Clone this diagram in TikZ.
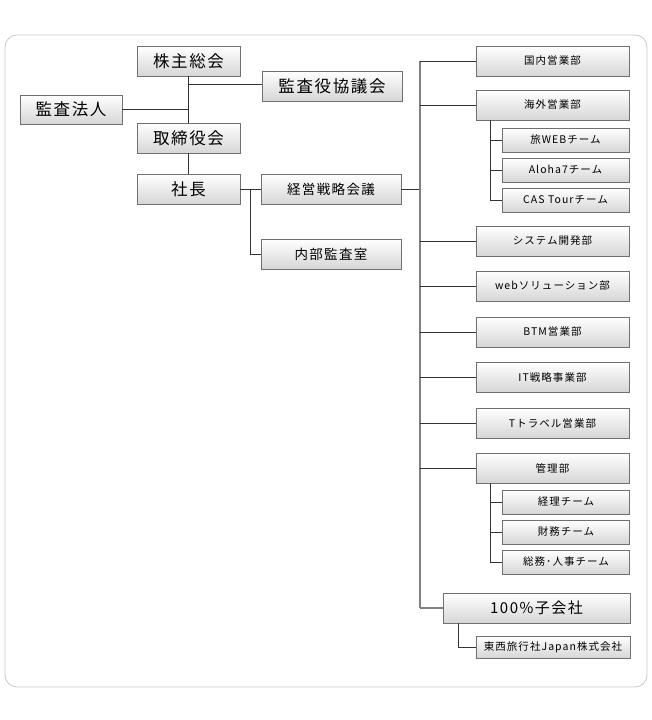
\documentclass[tikz,border=0pt]{standalone}
\usepackage{fontspec}
\setmainfont{Noto Sans CJK JP}[LetterSpace=10]
\usepackage{tikz}
\usetikzlibrary{calc}
\definecolor{frame}{HTML}{C8C8C8}
\definecolor{edge}{HTML}{707070}
\definecolor{link}{HTML}{333333}
\definecolor{trunk}{HTML}{808080}

\begin{document}
\begin{tikzpicture}[x=1pt, y=-1pt,
  orgbox/.style={draw=edge, top color=white, bottom color=black!16,
    inner sep=0pt, minimum height=30pt, align=center},
  bigbox/.style={orgbox, minimum width=103pt, font=\fontsize{16.5}{17}\selectfont},
  midbox/.style={orgbox, minimum width=140pt, font=\fontsize{13.5}{14}\selectfont},
  deptbox/.style={orgbox, minimum width=153pt, font=\fontsize{10.5}{11}\selectfont},
  teambox/.style={orgbox, minimum width=127pt, minimum height=24pt,
    font=\fontsize{10.5}{11}\selectfont},
  link/.style={draw=link, line width=0.8pt},
  trunk/.style={draw=trunk, line width=1.4pt}
]
\useasboundingbox (0,0) rectangle (652,720);
\draw[frame, line width=0.8pt, rounded corners=12pt] (5,35) rectangle (647,687);

% left part
\node[bigbox] (kabunushi) at (188.5,61) {株主総会};
\node[midbox, font=\fontsize{16.5}{17}\selectfont] (kansayaku) at (332,86) {監査役協議会};
\node[bigbox, minimum width=102pt, minimum height=29pt] (kansahojin) at (71,109.5) {監査法人};
\node[bigbox] (torishimari) at (188.5,138) {取締役会};
\node[bigbox] (shacho) at (188.5,189) {社長};
\node[midbox] (keiei) at (331,189) {経営戦略会議};
\node[midbox] (naibu) at (331,254) {内部監査室};

% right part
\node[deptbox] (kokunai) at (552.5,61) {国内営業部};
\node[deptbox] (kaigai) at (552.5,105) {海外営業部};
\node[teambox] (tabi) at (565.5,140) {旅WEBチーム};
\node[teambox] (aloha) at (565.5,170) {Aloha7チーム};
\node[teambox] (cas) at (565.5,200) {CAS Tourチーム};
\node[deptbox] (system) at (552.5,241) {システム開発部};
\node[deptbox] (web) at (552.5,286) {webソリューション部};
\node[deptbox] (btm) at (552.5,332) {BTM営業部};
\node[deptbox] (it) at (552.5,377) {IT戦略事業部};
\node[deptbox] (travel) at (552.5,423) {Tトラベル営業部};
\node[deptbox] (kanri) at (552.5,468) {管理部};
\node[teambox] (keiri) at (566,502) {経理チーム};
\node[teambox] (zaimu) at (566,532) {財務チーム};
\node[teambox] (somu) at (566,562) {総務･人事チーム};
\node[orgbox, minimum width=187pt, font=\fontsize{15}{15}\selectfont] (kogaisha) at (536.5,608) {100\%子会社};
\node[teambox, minimum width=154pt, minimum height=22pt] (tozai) at (553,647) {東西旅行社Japan株式会社};

\coordinate (bus) at (420,189);

% connectors
\draw[link] (kabunushi.south) -- (torishimari.north);
\draw[link] (torishimari.south) -- (shacho.north);
\draw[link] ([yshift=2pt]kansayaku.west) -- ([yshift=2pt]kansayaku.west -| kabunushi.south);
\draw[link] (kansahojin.east) -- (kansahojin.east -| kabunushi.south);
\draw[link] (shacho.east) -- (keiei.west);
\draw[link] ([xshift=10pt]shacho.east) |- (naibu.west);
\draw[link] (keiei.east) -- (bus);

\draw[trunk] (kokunai.west -| bus) -- (kogaisha.west -| bus);
\draw[link] (kokunai.west) -- (kokunai.west -| bus);
\foreach \d in {kaigai,system,web,btm,it,travel,kanri}
  \draw[link] (\d.west) -- (\d.west -| bus);
\draw[trunk] (kogaisha.west) -- (kogaisha.west -| bus);

\draw[link] ([xshift=15pt]kaigai.south west) |- (cas.west);
\foreach \t in {tabi,aloha}
  \draw[link] (\t.west) -- ++(-11,0);
\draw[link] ([xshift=15pt]kanri.south west) |- (somu.west);
\foreach \t in {keiri,zaimu}
  \draw[link] (\t.west) -- ++(-11,0);
\draw[link] ([xshift=16pt]kogaisha.south west) |- (tozai.west);
\end{tikzpicture}
\end{document}
